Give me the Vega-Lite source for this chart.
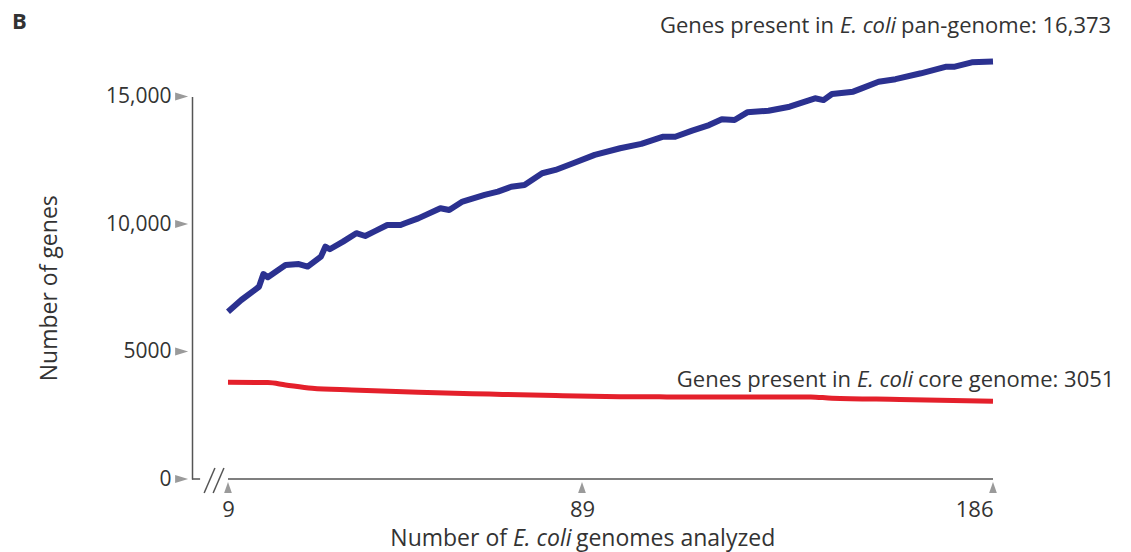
{
  "$schema": "https://vega.github.io/schema/vega-lite/v6.json",
  "width": 801,
  "height": 382.5,
  "autosize": {"type": "none"},
  "padding": {"left": 192, "top": 96.5, "right": 138, "bottom": 73},
  "background": "white",
  "config": {"view": {"stroke": null}, "font": "Open Sans", "text": {"font": "Open Sans"}},
  "datasets": {
    "pan": [
      {"genomes": 9, "genes": 6560}, {"genomes": 12, "genes": 7020}, {"genomes": 15, "genes": 7410},
      {"genomes": 16, "genes": 7540}, {"genomes": 17, "genes": 8040}, {"genomes": 18, "genes": 7910},
      {"genomes": 22, "genes": 8390}, {"genomes": 25, "genes": 8430}, {"genomes": 27, "genes": 8330},
      {"genomes": 30, "genes": 8720}, {"genomes": 31, "genes": 9110}, {"genomes": 32, "genes": 9010},
      {"genomes": 35, "genes": 9310}, {"genomes": 38, "genes": 9640}, {"genomes": 40, "genes": 9530},
      {"genomes": 42, "genes": 9700}, {"genomes": 45, "genes": 9960}, {"genomes": 48, "genes": 9960},
      {"genomes": 49, "genes": 10030}, {"genomes": 52, "genes": 10220}, {"genomes": 57, "genes": 10620},
      {"genomes": 59, "genes": 10550}, {"genomes": 62, "genes": 10880}, {"genomes": 67, "genes": 11140},
      {"genomes": 70, "genes": 11270}, {"genomes": 73, "genes": 11460}, {"genomes": 76, "genes": 11530},
      {"genomes": 80, "genes": 11990}, {"genomes": 83, "genes": 12120}, {"genomes": 87, "genes": 12380},
      {"genomes": 92, "genes": 12710}, {"genomes": 98, "genes": 12970}, {"genomes": 103, "genes": 13140},
      {"genomes": 108, "genes": 13420}, {"genomes": 111, "genes": 13420}, {"genomes": 115, "genes": 13660},
      {"genomes": 119, "genes": 13880}, {"genomes": 122, "genes": 14110}, {"genomes": 125, "genes": 14080},
      {"genomes": 128, "genes": 14380}, {"genomes": 133, "genes": 14440}, {"genomes": 138, "genes": 14600},
      {"genomes": 144, "genes": 14930}, {"genomes": 146, "genes": 14860}, {"genomes": 148, "genes": 15100},
      {"genomes": 153, "genes": 15190}, {"genomes": 155, "genes": 15320}, {"genomes": 159, "genes": 15580},
      {"genomes": 163, "genes": 15680}, {"genomes": 169, "genes": 15910}, {"genomes": 175, "genes": 16170},
      {"genomes": 177, "genes": 16170}, {"genomes": 181, "genes": 16340}, {"genomes": 186, "genes": 16373}
    ],
    "core": [
      {"genomes": 9, "genes": 3790}, {"genomes": 18, "genes": 3780}, {"genomes": 22, "genes": 3690},
      {"genomes": 28, "genes": 3560}, {"genomes": 37, "genes": 3490}, {"genomes": 52, "genes": 3400},
      {"genomes": 68, "genes": 3330}, {"genomes": 83, "genes": 3270}, {"genomes": 98, "genes": 3230},
      {"genomes": 109, "genes": 3220}, {"genomes": 125, "genes": 3215}, {"genomes": 143, "genes": 3220},
      {"genomes": 148, "genes": 3165}, {"genomes": 164, "genes": 3120}, {"genomes": 186, "genes": 3051}
    ],
    "yticks": [{"v": 0}, {"v": 5000}, {"v": 10000}, {"v": 15000}],
    "xticks": [{"v": 9}, {"v": 89}, {"v": 186}]
  },
  "layer": [
    {
      "data": {"name": "pan"},
      "mark": {"type": "line", "color": "#2B3190", "strokeWidth": 6, "strokeJoin": "round"},
      "encoding": {
        "x": {
          "field": "genomes", "type": "quantitative",
          "scale": {"type": "linear", "domain": [1, 9, 89, 186], "range": [0, 36, 390, 801], "nice": false, "zero": false},
          "axis": {
            "values": [9, 89, 186], "domain": false, "ticks": false, "tickSize": 0, "grid": false,
            "labelPadding": 20, "labelFontSize": 22, "labelColor": "#333", "labelFont": "Open Sans", "title": null
          }
        },
        "y": {
          "field": "genes", "type": "quantitative",
          "scale": {"domain": [0, 15000], "nice": false, "zero": true},
          "axis": {
            "values": [0, 5000, 10000, 15000], "grid": false, "ticks": false, "tickSize": 0,
            "domain": true, "domainColor": "#555", "domainWidth": 1.5,
            "labelExpr": "datum.value >= 10000 ? format(datum.value, ',') : format(datum.value, 'd')",
            "labelPadding": 21, "labelFontSize": 21, "labelColor": "#333", "labelFont": "Open Sans",
            "title": "Number of genes", "titleFontSize": 23, "titleFontWeight": "normal", "titleColor": "#333",
            "titleFont": "Open Sans", "titlePadding": 44
          }
        }
      }
    },
    {
      "data": {"name": "core"},
      "mark": {"type": "line", "color": "#E4202B", "strokeWidth": 5, "interpolate": "monotone"},
      "encoding": {
        "x": {"field": "genomes", "type": "quantitative"},
        "y": {"field": "genes", "type": "quantitative"}
      }
    },
    {
      "data": {"values": [{}]},
      "mark": {"type": "rule", "color": "#555", "strokeWidth": 1.5},
      "encoding": {"x": {"datum": 9}, "x2": {"datum": 186}, "y": {"datum": 0}}
    },
    {
      "data": {"values": [{}]},
      "mark": {"type": "rule", "color": "#555", "strokeWidth": 1.5},
      "encoding": {"x": {"datum": 1}, "x2": {"datum": 2.8}, "y": {"datum": 0}}
    },
    {
      "data": {"values": [{}]},
      "mark": {"type": "rule", "color": "#555", "strokeWidth": 1.5},
      "encoding": {"x": {"datum": 3.7}, "x2": {"datum": 6.1}, "y": {"datum": -550}, "y2": {"datum": 430}}
    },
    {
      "data": {"values": [{}]},
      "mark": {"type": "rule", "color": "#555", "strokeWidth": 1.5},
      "encoding": {"x": {"datum": 5.7}, "x2": {"datum": 8.1}, "y": {"datum": -550}, "y2": {"datum": 430}}
    },
    {
      "data": {"name": "yticks"},
      "mark": {"type": "point", "shape": "M-1,-0.6L1,0L-1,0.6Z", "size": 169, "filled": true, "color": "#9a9a9a", "opacity": 1},
      "encoding": {"x": {"datum": -1.3}, "y": {"field": "v", "type": "quantitative"}}
    },
    {
      "data": {"name": "xticks"},
      "mark": {"type": "point", "shape": "M-0.7,1L0,-1L0.7,1Z", "size": 121, "filled": true, "color": "#9a9a9a", "opacity": 1},
      "encoding": {"x": {"field": "v", "type": "quantitative"}, "y": {"datum": -333}}
    },
    {
      "data": {"values": [{}]},
      "mark": {"type": "text", "text": "Number of", "align": "right", "baseline": "alphabetic", "dx": -6, "fontSize": 23, "color": "#333"},
      "encoding": {"x": {"datum": 73.4}, "y": {"datum": -2627}}
    },
    {
      "data": {"values": [{}]},
      "mark": {"type": "text", "text": "E. coli", "align": "left", "baseline": "alphabetic", "fontStyle": "italic", "fontSize": 23, "color": "#333"},
      "encoding": {"x": {"datum": 73.4}, "y": {"datum": -2627}}
    },
    {
      "data": {"values": [{}]},
      "mark": {"type": "text", "text": "genomes analyzed", "align": "left", "baseline": "alphabetic", "dx": 63, "fontSize": 23, "color": "#333"},
      "encoding": {"x": {"datum": 73.4}, "y": {"datum": -2627}}
    },
    {
      "data": {"values": [{}]},
      "mark": {"type": "text", "text": "Genes present in", "align": "right", "baseline": "alphabetic", "dx": -6, "fontSize": 22, "color": "#333"},
      "encoding": {"x": {"datum": 149.9}, "y": {"datum": 17490}}
    },
    {
      "data": {"values": [{}]},
      "mark": {"type": "text", "text": "E. coli", "align": "left", "baseline": "alphabetic", "fontStyle": "italic", "fontSize": 22, "color": "#333"},
      "encoding": {"x": {"datum": 149.9}, "y": {"datum": 17490}}
    },
    {
      "data": {"values": [{}]},
      "mark": {"type": "text", "text": "pan-genome: 16,373", "align": "left", "baseline": "alphabetic", "dx": 61, "fontSize": 22, "color": "#333"},
      "encoding": {"x": {"datum": 149.9}, "y": {"datum": 17490}}
    },
    {
      "data": {"values": [{}]},
      "mark": {"type": "text", "text": "Genes present in", "align": "right", "baseline": "alphabetic", "dx": -6, "fontSize": 22, "color": "#333"},
      "encoding": {"x": {"datum": 153.9}, "y": {"datum": 3608}}
    },
    {
      "data": {"values": [{}]},
      "mark": {"type": "text", "text": "E. coli", "align": "left", "baseline": "alphabetic", "fontStyle": "italic", "fontSize": 22, "color": "#333"},
      "encoding": {"x": {"datum": 153.9}, "y": {"datum": 3608}}
    },
    {
      "data": {"values": [{}]},
      "mark": {"type": "text", "text": "core genome: 3051", "align": "left", "baseline": "alphabetic", "dx": 61, "fontSize": 22, "color": "#333"},
      "encoding": {"x": {"datum": 153.9}, "y": {"datum": 3608}}
    },
    {
      "data": {"values": [{}]},
      "mark": {"type": "text", "text": "B", "align": "left", "baseline": "alphabetic", "fontSize": 22, "fontWeight": "bold", "color": "#333"},
      "encoding": {"x": {"datum": -39}, "y": {"datum": 17650}}
    }
  ]
}
